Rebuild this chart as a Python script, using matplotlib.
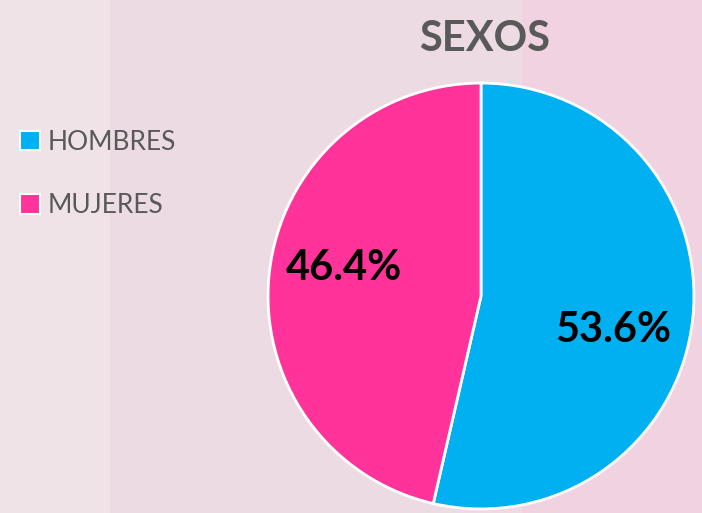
import matplotlib
matplotlib.use("Agg")
import matplotlib.pyplot as plt
from matplotlib.patches import Rectangle

plt.rcParams["font.family"] = ["Lato", "DejaVu Sans"]

# ── data ──────────────────────────────────────────────
labels = ["HOMBRES", "MUJERES"]
values = [53.6, 46.4]
colors = ["#00B0F0", "#FF3399"]

# label positions (in pie radius units), tuned to the reference
label_pos = [(0.62, -0.16), (-0.645, 0.13)]

W, H = 702, 513
fig = plt.figure(figsize=(W / 100, H / 100), dpi=100)
fig.patch.set_facecolor("#ECDBE2")

# background bands
fig.patches.append(Rectangle((0, 0), 110 / W, 1, transform=fig.transFigure,
                             facecolor="#EFE3E8", edgecolor="none", zorder=-5))
fig.patches.append(Rectangle((522 / W, 0), 1 - 522 / W, 1, transform=fig.transFigure,
                             facecolor="#F0D2E0", edgecolor="none", zorder=-5))

# pie axes: center (481, 296) px, radius 214 px
cx, cy, r = 481, 296, 214
ax = fig.add_axes([(cx - r) / W, (H - cy - r) / H, 2 * r / W, 2 * r / H])
ax.set_facecolor("none")

wedges, texts, autotexts = ax.pie(
    values, colors=colors, startangle=90, counterclock=False,
    autopct="%1.1f%%", pctdistance=0.64,
    wedgeprops=dict(edgecolor="white", linewidth=2),
    textprops=dict(fontsize=30, fontweight="bold", color="black"),
)
for t, (x, y) in zip(autotexts, label_pos):
    t.set_position((x, y))
ax.set_xlim(-1.005, 1.005)
ax.set_ylim(-1.005, 1.005)
ax.set_aspect("equal")

fig.text(485 / W, 1 - 39 / H, "SEXOS", ha="center", va="center",
         fontsize=30, fontweight="bold", color="#595959")

leg = fig.legend(wedges, labels, loc="upper left",
                 bbox_to_anchor=(20 / W, 1 - 130 / H),
                 frameon=False, borderpad=0, borderaxespad=0,
                 handlelength=0.75, handleheight=0.75,
                 handletextpad=0.3, labelspacing=1.45, fontsize=19,
                 labelcolor="#595959")
for h in leg.legend_handles:
    h.set_edgecolor("white")
    h.set_linewidth(1.5)

fig.savefig("out.png", dpi=100, facecolor=fig.get_facecolor())
